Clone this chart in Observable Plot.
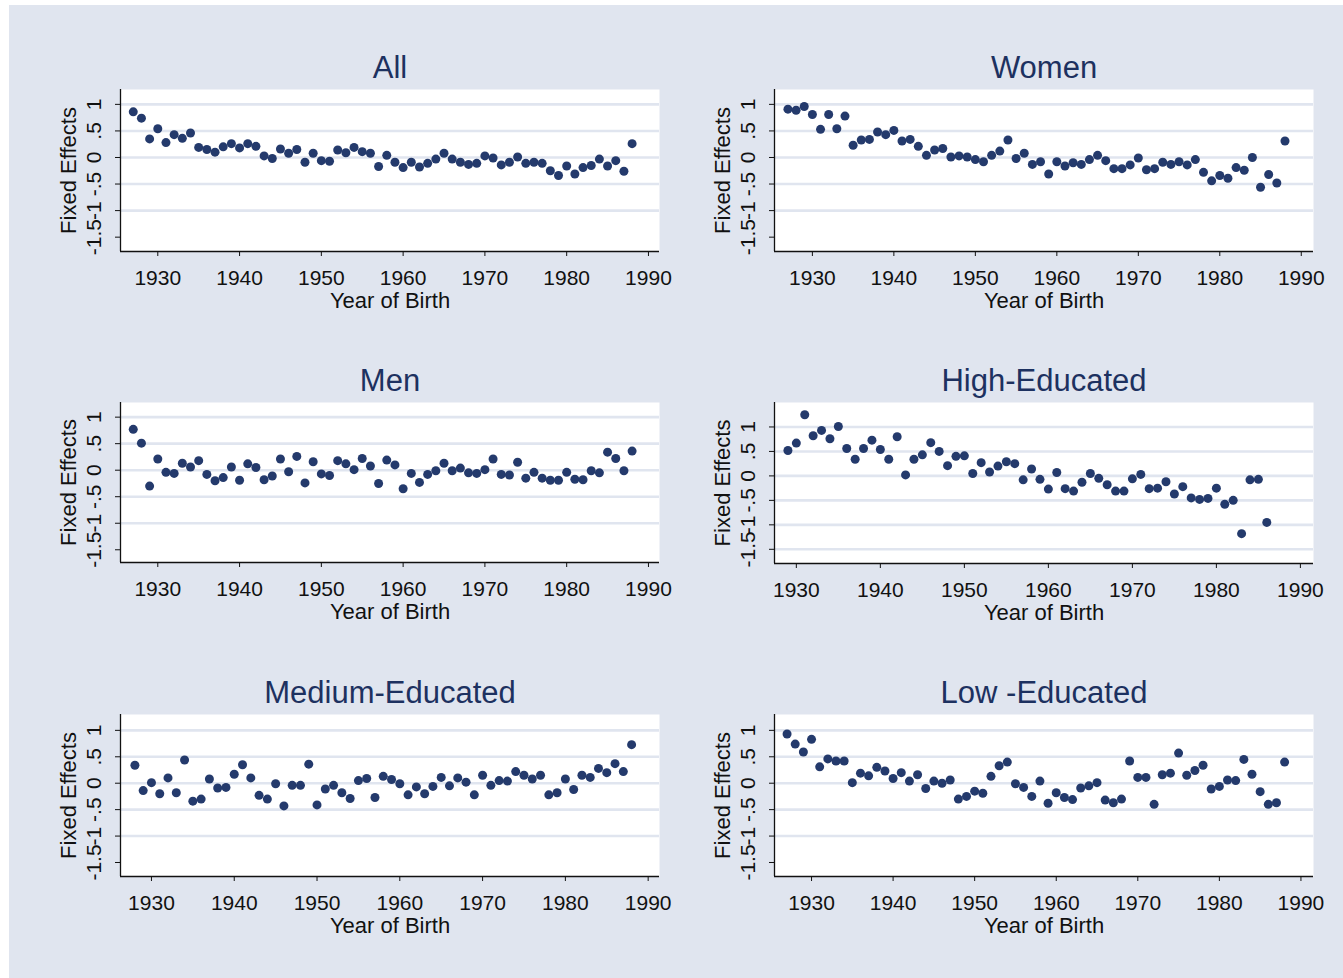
<!DOCTYPE html>
<html><head><meta charset="utf-8">
<script src="https://cdn.jsdelivr.net/npm/d3@7"></script>
<script src="https://cdn.jsdelivr.net/npm/@observablehq/plot@0.6"></script>
<style>
html,body{margin:0;padding:0;background:#fff;}
#page{position:relative;width:1343px;height:978px;overflow:hidden;background:#fff;}
#bg{position:absolute;left:9px;top:5px;right:0;bottom:0;background:#e0e5ef;}
.panel{position:absolute;}
</style></head><body><div id="page"><div id="bg"></div></div>
<script>
// ---- data ----
const titles = ["All", "Women", "Men", "High-Educated", "Medium-Educated", "Low -Educated"];
const xTicks = [1930, 1940, 1950, 1960, 1970, 1980, 1990];
const yTicks = [-1.5, -1, -0.5, 0, 0.5, 1];
const xLabel = "Year of Birth";
const yLabel = "Fixed Effects";

const years1927 = d3.range(1927, 1989); // 1927..1988
const years1928 = d3.range(1928, 1989); // 1928..1988
const years1929 = d3.range(1929, 1987); // 1929..1986

const allFE = [0.86,0.74,0.35,0.54,0.28,0.43,0.36,0.46,0.19,0.15,
  0.10,0.20,0.26,0.18,0.26,0.21,0.03,-0.02,0.16,0.08,
  0.15,-0.09,0.08,-0.06,-0.07,0.14,0.09,0.19,0.11,0.08,
  -0.17,0.04,-0.09,-0.19,-0.09,-0.18,-0.11,-0.03,0.08,-0.03,
  -0.09,-0.13,-0.11,0.03,-0.01,-0.14,-0.09,0.01,-0.11,-0.09,
  -0.11,-0.25,-0.34,-0.16,-0.31,-0.19,-0.15,-0.03,-0.16,-0.06,
  -0.26,0.26];
const womenFE = [0.91,0.89,0.96,0.81,0.53,0.81,0.54,0.78,0.23,0.33,
  0.34,0.48,0.43,0.51,0.31,0.34,0.21,0.04,0.14,0.17,
  0.01,0.03,0.01,-0.04,-0.08,0.04,0.12,0.33,-0.02,0.08,
  -0.13,-0.08,-0.31,-0.08,-0.16,-0.10,-0.13,-0.04,0.04,-0.06,
  -0.21,-0.21,-0.14,-0.01,-0.23,-0.21,-0.09,-0.13,-0.08,-0.14,
  -0.04,-0.28,-0.44,-0.34,-0.39,-0.19,-0.24,0.00,-0.56,-0.32,
  -0.48,0.31];
const menFE = [0.77,0.51,-0.30,0.21,-0.04,-0.06,0.13,0.06,0.18,-0.08,
  -0.20,-0.14,0.06,-0.19,0.12,0.05,-0.18,-0.11,0.21,-0.03,
  0.26,-0.24,0.16,-0.07,-0.10,0.18,0.12,0.01,0.22,0.08,
  -0.25,0.19,0.10,-0.35,-0.06,-0.23,-0.08,-0.01,0.13,-0.01,
  0.04,-0.05,-0.06,0.01,0.21,-0.08,-0.09,0.15,-0.15,-0.04,
  -0.15,-0.19,-0.19,-0.04,-0.17,-0.18,-0.01,-0.05,0.34,0.22,
  -0.01,0.36];
const highFE = [0.52,0.67,1.25,0.82,0.93,0.76,1.01,0.56,0.34,0.56,
  0.73,0.54,0.34,0.80,0.02,0.34,0.43,0.68,0.50,0.21,
  0.40,0.41,0.05,0.27,0.08,0.20,0.29,0.25,-0.08,0.14,
  -0.07,-0.27,0.07,-0.26,-0.31,-0.13,0.05,-0.05,-0.18,-0.31,
  -0.31,-0.06,0.03,-0.26,-0.25,-0.12,-0.37,-0.22,-0.45,-0.48,
  -0.46,-0.25,-0.58,-0.50,-1.18,-0.08,-0.07,-0.95];
const mediumFE = [0.34,-0.14,0.01,-0.20,0.10,-0.18,0.44,-0.34,-0.30,0.08,
  -0.09,-0.08,0.17,0.35,0.10,-0.23,-0.30,-0.01,-0.43,-0.04,
  -0.04,0.36,-0.41,-0.11,-0.04,-0.18,-0.29,0.05,0.09,-0.27,
  0.13,0.07,-0.01,-0.22,-0.07,-0.20,-0.06,0.11,-0.05,0.10,
  0.02,-0.22,0.15,-0.04,0.05,0.04,0.22,0.15,0.08,0.15,
  -0.22,-0.18,0.08,-0.12,0.15,0.11,0.28,0.20,0.37,0.22,
  0.73];
const lowFE = [0.93,0.74,0.59,0.83,0.31,0.46,0.42,0.42,0.01,0.19,
  0.14,0.30,0.23,0.09,0.20,0.04,0.16,-0.10,0.04,0.00,
  0.06,-0.30,-0.25,-0.15,-0.19,0.13,0.33,0.40,-0.01,-0.08,
  -0.25,0.04,-0.38,-0.18,-0.27,-0.31,-0.09,-0.05,0.01,-0.32,
  -0.37,-0.30,0.42,0.11,0.11,-0.40,0.16,0.19,0.57,0.15,
  0.24,0.34,-0.11,-0.06,0.06,0.05,0.45,0.17,-0.16,-0.40,
  -0.37,0.40];

// ---- layout / style ----
const BG = "#e0e5ef";
const NAVY = "#243a6c";
const TITLE = "#1d3160";
const FONT = "'Liberation Sans', Arial, Helvetica, sans-serif";
const ML = 80, MR = 12, MT = 50, MB = 72, PW = 539;

const panels = [
  {title: titles[0], years: years1927, fe: allFE,    left: 120, top: 89,  h: 162, xd: [1925.44, 1991.35], yd: [-1.77, 1.28], grid: [-1, -0.5, 0, 0.5, 1]},
  {title: titles[1], years: years1927, fe: womenFE,  left: 774, top: 89,  h: 162, xd: [1925.35, 1991.5],  yd: [-1.77, 1.28], grid: [-1, -0.5, 0, 0.5, 1]},
  {title: titles[2], years: years1927, fe: menFE,    left: 120, top: 402, h: 160, xd: [1925.44, 1991.35], yd: [-1.74, 1.276], grid: [-1, -0.5, 0, 0.5, 1]},
  {title: titles[3], years: years1929, fe: highFE,   left: 774, top: 402, h: 161, xd: [1927.4, 1991.56],  yd: [-1.79, 1.50], grid: [-1.5, -1, -0.5, 0, 0.5, 1]},
  {title: titles[4], years: years1928, fe: mediumFE, left: 120, top: 714, h: 162, xd: [1926.26, 1991.37], yd: [-1.765, 1.30], grid: [-1, -0.5, 0, 0.5, 1]},
  {title: titles[5], years: years1927, fe: lowFE,    left: 774, top: 714, h: 162, xd: [1925.46, 1991.54], yd: [-1.765, 1.30], grid: [-1, -0.5, 0, 0.5, 1]}
];

const stataFmt = d => d === 0 ? "0" : String(d).replace("0.", ".");

const page = document.getElementById("page");
for (const p of panels) {
  const data = p.years.map((yr, i) => ({year: yr, fe: p.fe[i]}));
  const chart = Plot.plot({
    width: ML + PW + MR,
    height: MT + p.h + MB,
    marginLeft: ML, marginRight: MR, marginTop: MT, marginBottom: MB,
    x: {domain: p.xd},
    y: {domain: p.yd},
    style: {fontFamily: FONT, fontSize: "21px", background: "transparent", color: "#111", overflow: "visible"},
    marks: [
      Plot.frame({fill: "white", stroke: "none"}),
      Plot.ruleY(p.grid, {stroke: BG, strokeWidth: 2.6}),
      Plot.ruleX([p.xd[0]], {stroke: "#111", strokeWidth: 1.3}),
      Plot.ruleY([p.yd[0]], {stroke: "#111", strokeWidth: 1.3}),
      Plot.axisX({ticks: xTicks, tickFormat: d => String(d), tickSize: 5, tickPadding: 14, fontSize: 21, label: null, stroke: "#111"}),
      Plot.axisY({ticks: yTicks, tickFormat: stataFmt, tickRotate: -90, tickSize: 5, tickPadding: 15, fontSize: 21, label: null, stroke: "#111"}),
      Plot.dot(data, {x: "year", y: "fe", r: 4.5, fill: NAVY}),
      Plot.text([p.title], {text: d => d, frameAnchor: "top", lineAnchor: "middle", dy: -21, fontSize: 31, fill: TITLE}),
      Plot.text([xLabel], {text: d => d, frameAnchor: "bottom", lineAnchor: "middle", dy: 49, fontSize: 22, fill: "#111"}),
      Plot.text([yLabel], {text: d => d, frameAnchor: "left", textAnchor: "middle", lineAnchor: "middle", rotate: -90, dx: -52, fontSize: 22, fill: "#111"})
    ]
  });
  chart.classList.add("panel");
  chart.style.left = (p.left - ML) + "px";
  chart.style.top = (p.top - MT) + "px";
  page.appendChild(chart);
}
</script>
</body></html>
